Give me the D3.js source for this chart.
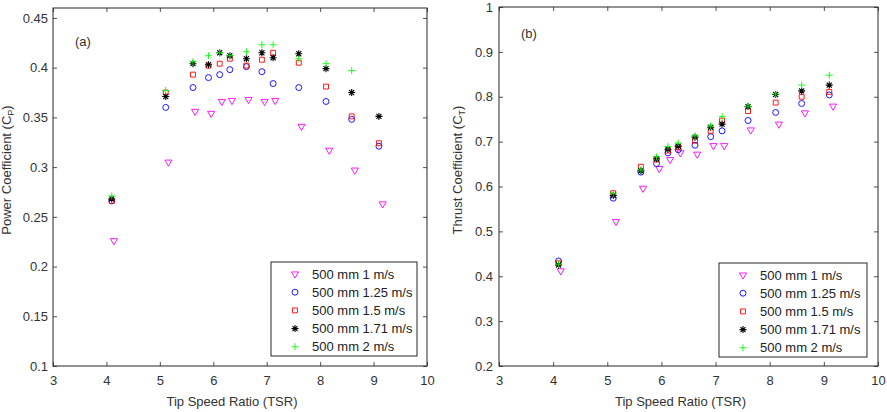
<!DOCTYPE html>
<html>
<head>
<style>
	body { margin: 0; background: #fff; }
	#chart { display: block; font-family: "Liberation Sans", Arial, sans-serif; }
</style>
</head>
<body>
<svg id="chart" width="887" height="412"></svg>
<script src="https://cdnjs.cloudflare.com/ajax/libs/d3/7.8.5/d3.min.js"></script>
<script>
// legend entries, one per flow speed
let seriesNames = ['500 mm 1 m/s', '500 mm 1.25 m/s', '500 mm 1.5 m/s', '500 mm 1.71 m/s', '500 mm 2 m/s'];
let colors = ['#ff00ff', '#0000ff', '#ff0000', '#000000', '#00ff00'];
let markers = ['triangle', 'circle', 'square', 'asterisk', 'plus'];

// tip speed ratio of each test point (1 m/s points sit slightly to the right)
let tsr = [4.1, 5.11, 5.62, 5.91, 6.12, 6.31, 6.62, 6.91, 7.12, 7.6, 8.11, 8.59, 9.1];
let tsrSlow = [4.14, 5.16, 5.66, 5.96, 6.16, 6.35, 6.66, 6.96, 7.16, 7.65, 8.17, 8.65, 9.17];

// (a) power coefficient
let cp1 = [0.226, 0.305, 0.356, 0.354, 0.366, 0.367, 0.368, 0.366, 0.367, 0.341, 0.317, 0.297, 0.263];
let cp125 = [0.266, 0.360, 0.380, 0.390, 0.393, 0.398, 0.401, 0.396, 0.384, 0.380, 0.366, 0.348, 0.321];
let cp15 = [0.266, 0.375, 0.393, 0.402, 0.404, 0.409, 0.402, 0.408, 0.415, 0.405, 0.381, 0.351, 0.324];
let cp171 = [0.268, 0.371, 0.404, 0.403, 0.415, 0.412, 0.409, 0.415, 0.410, 0.414, 0.399, 0.375, 0.351];
let cp2 = [0.271, 0.377, 0.406, 0.412, 0.415, 0.412, 0.416, 0.423, 0.423, 0.409, 0.404, 0.397, null];

// (b) thrust coefficient
let ct1 = [0.412, 0.522, 0.596, 0.640, 0.660, 0.675, 0.672, 0.691, 0.691, 0.726, 0.739, 0.764, 0.779];
let ct125 = [0.434, 0.574, 0.632, 0.651, 0.675, 0.682, 0.692, 0.711, 0.724, 0.747, 0.765, 0.785, 0.804];
let ct15 = [0.429, 0.585, 0.644, 0.660, 0.680, 0.688, 0.702, 0.724, 0.747, 0.768, 0.787, 0.800, 0.811];
let ct171 = [0.425, 0.580, 0.635, 0.662, 0.683, 0.690, 0.710, 0.732, 0.739, 0.778, 0.805, 0.813, 0.826];
let ct2 = [0.427, 0.585, 0.637, 0.666, 0.689, 0.697, 0.713, 0.735, 0.756, 0.779, 0.806, 0.826, 0.848];

let xTicks = [3, 4, 5, 6, 7, 8, 9, 10];
let cpTicks = [0.1, 0.15, 0.2, 0.25, 0.3, 0.35, 0.4, 0.45];
let ctTicks = [0.2, 0.3, 0.4, 0.5, 0.6, 0.7, 0.8, 0.9, 1];

let svg = d3.select('#chart');
let axisColor = '#262626';

function markerPath(type) {
	let r = 3.5;
	if (type === 'triangle') return d3.symbol(d3.symbolTriangle, 22)();
	if (type === 'circle') return d3.symbol(d3.symbolCircle, 28)();
	if (type === 'square') return d3.symbol(d3.symbolSquare, 24)();
	if (type === 'plus') return `M${-r},0H${r}M0,${-r}V${r}`;
	let d = r * 0.72;
	return `M${-r},0H${r}M0,${-r}V${r}M${-d},${-d}L${d},${d}M${-d},${d}L${d},${-d}`;
}

function drawMarker(g, type, color) {
	return g.append('path')
		.attr('d', markerPath(type))
		.attr('fill', 'none')
		.attr('stroke', color)
		.attr('stroke-width', type === 'asterisk' ? 1.1 : 0.9);
}

function drawPanel(opt) {
	let x = d3.scaleLinear().domain([3, 10]).range([opt.left, opt.right]);
	let y = d3.scaleLinear().domain(opt.yDomain).range([opt.bottom, opt.top]);
	let g = svg.append('g');

	g.append('rect')
		.attr('x', opt.left).attr('y', opt.top)
		.attr('width', opt.right - opt.left).attr('height', opt.bottom - opt.top)
		.attr('fill', 'none').attr('stroke', axisColor).attr('stroke-width', 1);

	let styleAxis = a => {
		a.select('.domain').remove();
		a.selectAll('line').attr('stroke', axisColor);
		a.selectAll('text').attr('fill', '#333').style('font-size', '13px').style('font-family', null);
	};

	g.append('g').attr('transform', `translate(0,${opt.bottom})`)
		.call(d3.axisBottom(x).tickValues(xTicks).tickSize(-4).tickSizeOuter(0).tickPadding(10).tickFormat(d3.format('d')))
		.call(styleAxis);
	g.append('g').attr('transform', `translate(0,${opt.top})`)
		.call(d3.axisTop(x).tickValues(xTicks).tickSize(-4).tickSizeOuter(0).tickFormat(''))
		.call(styleAxis);
	g.append('g').attr('transform', `translate(${opt.left},0)`)
		.call(d3.axisLeft(y).tickValues(opt.yTicks).tickSize(-4).tickSizeOuter(0).tickPadding(opt.yPad).tickFormat(d3.format('~g')))
		.call(styleAxis);
	g.append('g').attr('transform', `translate(${opt.right},0)`)
		.call(d3.axisRight(y).tickValues(opt.yTicks).tickSize(-4).tickSizeOuter(0).tickFormat(''))
		.call(styleAxis);

	g.selectAll('.tick line').attr('stroke-width', 0.8);

	// points, slowest series first so the faster ones draw on top
	opt.series.forEach((vals, i) => {
		let xs = i === 0 ? tsrSlow : tsr;
		let pts = vals.map((v, j) => ({ x: xs[j], y: v })).filter(d => d.y !== null);
		g.append('g').selectAll('g')
			.data(pts)
			.join('g')
			.attr('transform', d => `translate(${x(d.x)},${y(d.y)})` + (markers[i] === 'triangle' ? ' rotate(180)' : ''))
			.each(function () { drawMarker(d3.select(this), markers[i], colors[i]); });
	});

	// axis titles
	g.append('text')
		.attr('x', (opt.left + opt.right) / 2 - 8).attr('y', 406)
		.attr('text-anchor', 'middle').attr('fill', '#333').style('font-size', '13px')
		.text('Tip Speed Ratio (TSR)');

	let yt = g.append('text')
		.attr('transform', `translate(${opt.yTitleX},170) rotate(-90)`)
		.attr('text-anchor', 'middle').attr('fill', '#333').style('font-size', '13px');
	yt.append('tspan').text(opt.yTitle + ' (C');
	yt.append('tspan').attr('dy', 3).style('font-size', '9px').text(opt.sub);
	yt.append('tspan').attr('dy', -3).text(')');

	g.append('text')
		.attr('x', opt.left + 22).attr('y', opt.tagY)
		.attr('fill', '#333').style('font-size', '13px')
		.text(opt.tag);

	// legend
	let lg = g.append('g').attr('transform', `translate(${opt.legX},${opt.legY})`);
	lg.append('rect')
		.attr('width', opt.legW).attr('height', 94)
		.attr('fill', '#fff').attr('stroke', axisColor).attr('stroke-width', 1);
	seriesNames.forEach((name, i) => {
		let row = lg.append('g').attr('transform', `translate(0,${12 + i * 18.2})`);
		drawMarker(row.append('g').attr('transform', `translate(${opt.legSym},0)` + (markers[i] === 'triangle' ? ' rotate(180)' : '')), markers[i], colors[i]);
		row.append('text')
			.attr('x', opt.legSym + 17).attr('y', 4.5)
			.attr('fill', '#222').style('font-size', '13px')
			.text(name);
	});
}

drawPanel({
	left: 53, right: 427, top: 8, bottom: 366,
	yDomain: [0.1, 0.46], yTicks: cpTicks, yPad: 5,
	series: [cp1, cp125, cp15, cp171, cp2],
	yTitle: 'Power Coefficient', sub: 'P', yTitleX: 11,
	tag: '(a)', tagY: 46,
	legX: 271, legY: 262, legW: 146, legSym: 24
});

drawPanel({
	left: 499, right: 878, top: 7, bottom: 366,
	yDomain: [0.2, 1], yTicks: ctTicks, yPad: 6,
	series: [ct1, ct125, ct15, ct171, ct2],
	yTitle: 'Thrust Coefficient', sub: 'T', yTitleX: 462,
	tag: '(b)', tagY: 38,
	legX: 719, legY: 263, legW: 148, legSym: 24
});
</script>
</body>
</html>
